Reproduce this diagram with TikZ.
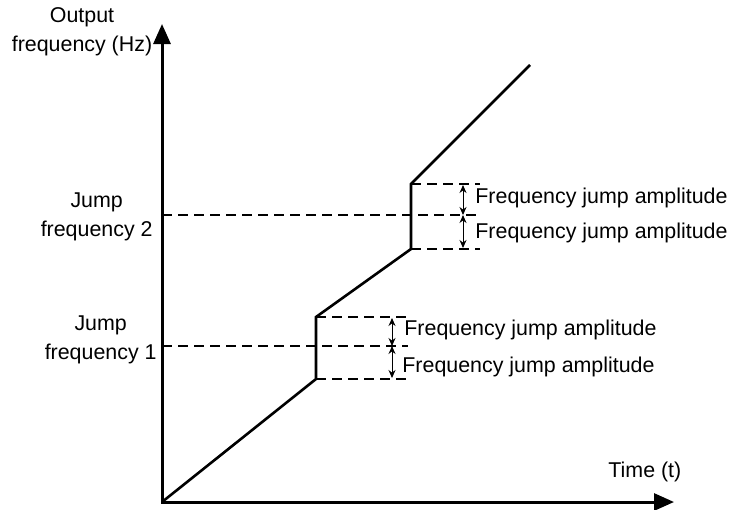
\documentclass[tikz,border=0pt]{standalone}
\usepackage{fontspec}
\setmainfont{Liberation Sans}
\usetikzlibrary{arrows.meta}

\begin{document}
\begin{tikzpicture}[x=0.5pt,y=-0.5pt,
	axis/.style={line width=1.5pt,line join=miter,{Triangle[length=10pt,width=8.5pt]}-{Triangle[length=10pt,width=8.5pt]}},
	ramp/.style={line width=1.3pt,line join=miter},
	jumpline/.style={line width=1.4pt,dash pattern=on 5pt off 3pt},
	amp/.style={line width=0.5pt,{Stealth[length=4pt,width=3.5pt]}-{Stealth[length=4pt,width=3.5pt]}},
	lbl/.style={inner sep=0pt,align=center,font=\fontsize{10.7}{14.5}\selectfont}]

	\useasboundingbox (0,0) rectangle (731,509);

	% Axes
	\coordinate (O) at (162,502);
	\coordinate (ytop) at (162,24);
	\coordinate (xend) at (674,502);
	\draw[axis] (ytop) -- (O) -- (xend);
	\node[lbl] (ylabel) at (82,32) {Output\\frequency (Hz)};
	\node[lbl,anchor=west] (xlabel) at (608,472) {Time (t)};

	% Output frequency
	\coordinate (k1lo) at (316,379);
	\coordinate (k1hi) at (316,317);
	\coordinate (k2lo) at (411,249);
	\coordinate (k2hi) at (411,184);
	\coordinate (top) at (530,65);
	\draw[ramp] (O) -- (k1lo) -- (k1hi) -- (k2lo) -- (k2hi) -- (top);

	% Jump frequency 1
	\coordinate (f1) at (162,346);
	\coordinate (f1end) at (408,346);
	\coordinate (f1hi) at (408,317);
	\coordinate (f1lo) at (408,379);
	\draw[jumpline] (f1) -- (f1end);
	\draw[jumpline] (k1hi) -- (f1hi);
	\draw[jumpline] (k1lo) -- (f1lo);
	\coordinate (a1t) at (392,318);
	\coordinate (a1m) at (392,346);
	\coordinate (a1b) at (392,378);
	\draw[amp] (a1t) -- (a1m);
	\draw[amp] (a1m) -- (a1b);
	\node[lbl,anchor=east] (j1) at (157,340) {Jump\\frequency 1};
	\node[lbl,anchor=west] (amp1a) at (404,330) {Frequency jump amplitude};
	\node[lbl,anchor=west] (amp1b) at (402,367) {Frequency jump amplitude};

	% Jump frequency 2
	\coordinate (f2) at (162,215);
	\coordinate (f2end) at (480,215);
	\coordinate (f2hi) at (480,184);
	\coordinate (f2lo) at (480,249);
	\draw[jumpline] (f2) -- (f2end);
	\draw[jumpline] (k2hi) -- (f2hi);
	\draw[jumpline] (k2lo) -- (f2lo);
	\coordinate (a2t) at (463,185);
	\coordinate (a2m) at (463,215);
	\coordinate (a2b) at (463,248);
	\draw[amp] (a2t) -- (a2m);
	\draw[amp] (a2m) -- (a2b);
	\node[lbl,anchor=east] (j2) at (153,217) {Jump\\frequency 2};
	\node[lbl,anchor=west] (amp2a) at (475,198) {Frequency jump amplitude};
	\node[lbl,anchor=west] (amp2b) at (475,233) {Frequency jump amplitude};

\end{tikzpicture}
\end{document}
